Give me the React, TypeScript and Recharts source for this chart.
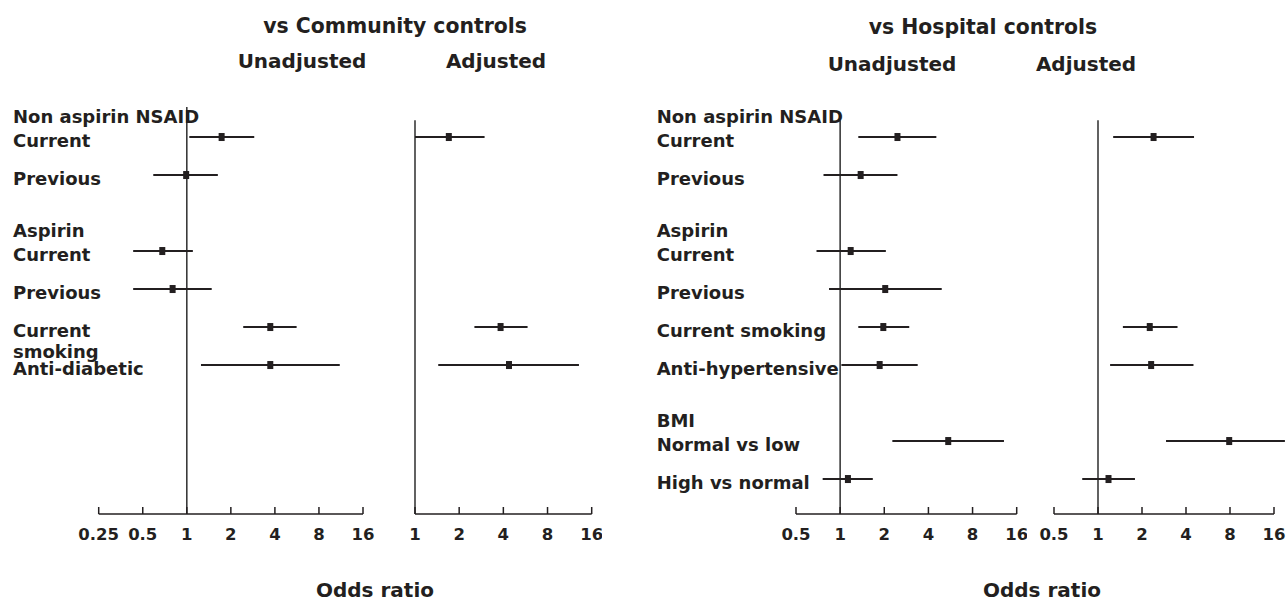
import { ScatterChart, Scatter, XAxis, YAxis, ErrorBar, ReferenceLine } from "recharts";

// row slots shared by every panel (gaps keep the group spacing)
const SLOTS = [
  "nsaidCurrent",
  "nsaidPrevious",
  "gap1",
  "aspirinCurrent",
  "aspirinPrevious",
  "smoking",
  "drug",
  "gap2",
  "bmiNormal",
  "bmiHigh",
];

const HEADERS: Record<string, string> = {
  nsaidCurrent: "Non aspirin NSAID",
  aspirinCurrent: "Aspirin",
  bmiNormal: "BMI",
};

// vs Community controls
const communityRows = ["nsaidCurrent", "nsaidPrevious", "aspirinCurrent", "aspirinPrevious", "smoking", "drug"];
const communityLabels = [["Current"], ["Previous"], ["Current"], ["Previous"], ["Current", "smoking"], ["Anti-diabetic"]];
const communityUnadjOR = [1.73, 0.99, 0.68, 0.8, 3.72, 3.72];
const communityUnadjLow = [1.04, 0.59, 0.43, 0.43, 2.43, 1.25];
const communityUnadjHigh = [2.89, 1.63, 1.1, 1.48, 5.63, 11.1];

const communityAdjRows = ["nsaidCurrent", "smoking", "drug"];
const communityAdjOR = [1.7, 3.83, 4.37];
const communityAdjLow = [1.0, 2.54, 1.44];
const communityAdjHigh = [2.98, 5.85, 13.1];

// vs Hospital controls
const hospitalRows = [
  "nsaidCurrent",
  "nsaidPrevious",
  "aspirinCurrent",
  "aspirinPrevious",
  "smoking",
  "drug",
  "bmiNormal",
  "bmiHigh",
];
const hospitalLabels = [
  ["Current"],
  ["Previous"],
  ["Current"],
  ["Previous"],
  ["Current smoking"],
  ["Anti-hypertensive"],
  ["Normal vs low"],
  ["High vs normal"],
];
const hospitalUnadjOR = [2.46, 1.38, 1.18, 2.03, 1.97, 1.86, 5.46, 1.13];
const hospitalUnadjLow = [1.33, 0.77, 0.69, 0.84, 1.33, 1.02, 2.27, 0.76];
const hospitalUnadjHigh = [4.53, 2.46, 2.05, 4.93, 2.96, 3.38, 13.1, 1.67];

const hospitalAdjRows = ["nsaidCurrent", "smoking", "drug", "bmiNormal", "bmiHigh"];
const hospitalAdjOR = [2.4, 2.26, 2.31, 7.9, 1.18];
const hospitalAdjLow = [1.27, 1.48, 1.21, 2.92, 0.78];
const hospitalAdjHigh = [4.54, 3.5, 4.5, 19, 1.79];

const TICKS_WIDE = [0.25, 0.5, 1, 2, 4, 8, 16];
const TICKS_ONE = [1, 2, 4, 8, 16];
const TICKS_HALF = [0.5, 1, 2, 4, 8, 16];

const INK = "#231f20";
const FONT = "'DejaVu Sans', Lato, sans-serif";
const Y_DOMAIN: [number, number] = [-0.79, 9.92];

const toPoints = (rows: string[], or: number[], low: number[], high: number[]) =>
  rows.map((r, i) => ({
    row: SLOTS.indexOf(r),
    or: or[i],
    ci: [or[i] - low[i], high[i] - or[i]],
  }));

const Square = (p: any) => <rect x={p.cx - 3} y={p.cy - 4} width={6} height={8} fill={INK} />;

const XTick = ({ x, y, payload }: any) => (
  <g>
    <line x1={x} x2={x} y1={y - 7} y2={y} stroke={INK} strokeWidth={1.5} />
    <text x={x} y={y + 26} textAnchor="middle" fill={INK} fontFamily={FONT} fontWeight={700} fontSize={16.5}>
      {String(payload.value)}
    </text>
  </g>
);

type PanelProps = {
  left: number;
  width: number;
  marginLeft: number;
  marginRight: number;
  domain: [number, number];
  ticks: number[];
  points: { row: number; or: number; ci: number[] }[];
  refTop: number;
  labelRows?: string[];
  labels?: string[][];
  labelX?: number;
};

function Panel(props: PanelProps) {
  const { left, width, marginLeft, marginRight, domain, ticks, points, refTop, labelRows, labels, labelX } = props;

  const renderLabel = ({ y, payload }: any) => {
    const key = SLOTS[payload.value];
    const idx = labelRows!.indexOf(key);
    const lines = labels![idx] || [];
    const header = HEADERS[key];
    const base = y + 10;
    const style = { fill: INK, fontFamily: FONT, fontWeight: 700, fontSize: 18 } as any;
    return (
      <g>
        {header && (
          <text x={labelX} y={base - 24} {...style}>
            {header}
          </text>
        )}
        {lines.map((l, j) => (
          <text key={j} x={labelX} y={base + j * 21} {...style}>
            {l}
          </text>
        ))}
      </g>
    );
  };

  return (
    <div style={{ position: "absolute", left, top: 0 }}>
      <ScatterChart
        width={width}
        height={604}
        margin={{ top: 107, right: marginRight, bottom: 50, left: labelRows ? 0 : marginLeft }}
      >
        <XAxis
          type="number"
          dataKey="or"
          scale="log"
          domain={domain}
          ticks={ticks}
          allowDataOverflow
          interval={0}
          height={40}
          tickSize={0}
          tickMargin={0}
          tickLine={false}
          axisLine={{ stroke: INK, strokeWidth: 1.5 }}
          tick={XTick}
        />
        {labelRows ? (
          <YAxis
            type="number"
            dataKey="row"
            domain={Y_DOMAIN}
            reversed
            allowDataOverflow
            ticks={labelRows.map((r) => SLOTS.indexOf(r))}
            interval={0}
            width={marginLeft}
            tickLine={false}
            axisLine={false}
            tick={renderLabel}
          />
        ) : (
          <YAxis type="number" dataKey="row" domain={Y_DOMAIN} reversed allowDataOverflow hide />
        )}
        <ReferenceLine
          segment={[
            { x: 1, y: refTop },
            { x: 1, y: Y_DOMAIN[1] },
          ]}
          stroke="#3a3a3a"
          strokeWidth={1.6}
        />
        <Scatter data={points} shape={Square} isAnimationActive={false}>
          <ErrorBar dataKey="ci" direction="x" width={0} stroke={INK} strokeWidth={2} isAnimationActive={false} />
        </Scatter>
      </ScatterChart>
    </div>
  );
}

const titleStyle = { fill: INK, fontFamily: FONT, fontWeight: 700 } as any;

export default function App() {
  return (
    <div style={{ position: "absolute", left: 0, top: 0, width: 1287, height: 604, background: "#fff" }}>
      <svg width={1287} height={604} style={{ position: "absolute", left: 0, top: 0 }}>
        <text x={395} y={33} textAnchor="middle" fontSize={20.4} {...titleStyle}>vs Community controls</text>
        <text x={302} y={68} textAnchor="middle" fontSize={20} {...titleStyle}>Unadjusted</text>
        <text x={496} y={68} textAnchor="middle" fontSize={20} {...titleStyle}>Adjusted</text>
        <text x={983} y={34} textAnchor="middle" fontSize={20.4} {...titleStyle}>vs Hospital controls</text>
        <text x={892} y={71} textAnchor="middle" fontSize={20} {...titleStyle}>Unadjusted</text>
        <text x={1086} y={71} textAnchor="middle" fontSize={20} {...titleStyle}>Adjusted</text>
        <text x={375} y={597} textAnchor="middle" fontSize={20} {...titleStyle}>Odds ratio</text>
        <text x={1042} y={597} textAnchor="middle" fontSize={20} {...titleStyle}>Odds ratio</text>
      </svg>

      <Panel
        left={0}
        width={375}
        marginLeft={98.7}
        marginRight={12}
        domain={[0.25, 16]}
        ticks={TICKS_WIDE}
        points={toPoints(communityRows, communityUnadjOR, communityUnadjLow, communityUnadjHigh)}
        refTop={-0.79}
        labelRows={communityRows}
        labels={communityLabels}
        labelX={13}
      />
      <Panel
        left={400}
        width={202}
        marginLeft={15}
        marginRight={10.3}
        domain={[1, 16]}
        ticks={TICKS_ONE}
        points={toPoints(communityAdjRows, communityAdjOR, communityAdjLow, communityAdjHigh)}
        refTop={-0.44}
      />
      <Panel
        left={640}
        width={387}
        marginLeft={156}
        marginRight={10.3}
        domain={[0.5, 16]}
        ticks={TICKS_HALF}
        points={toPoints(hospitalRows, hospitalUnadjOR, hospitalUnadjLow, hospitalUnadjHigh)}
        refTop={-0.44}
        labelRows={hospitalRows}
        labels={hospitalLabels}
        labelX={16.7}
      />
      <Panel
        left={1030}
        width={257}
        marginLeft={24}
        marginRight={13}
        domain={[0.5, 16]}
        ticks={TICKS_HALF}
        points={toPoints(hospitalAdjRows, hospitalAdjOR, hospitalAdjLow, hospitalAdjHigh)}
        refTop={-0.44}
      />
    </div>
  );
}
